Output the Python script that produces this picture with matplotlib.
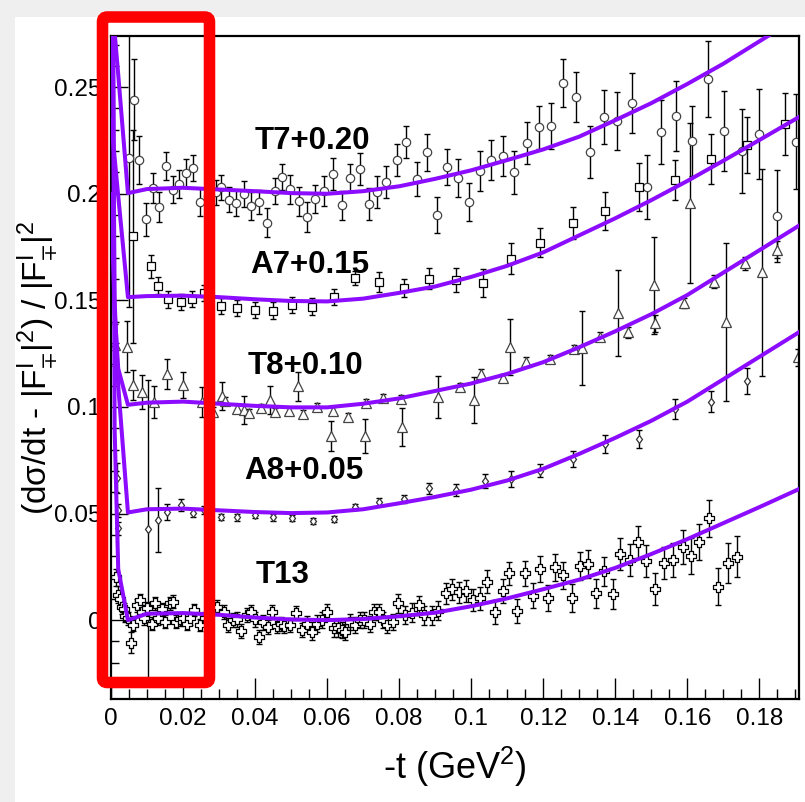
"""Relative deviation of dsigma/dt from the hadronic amplitude, five data sets."""

import matplotlib

matplotlib.use("Agg")
import matplotlib.pyplot as plt
from matplotlib.patches import FancyBboxPatch, Rectangle
from matplotlib.path import Path
from matplotlib.ticker import FuncFormatter, MultipleLocator

plt.rcParams["font.family"] = ["Liberation Sans", "DejaVu Sans"]
plt.rcParams["mathtext.fontset"] = "custom"
plt.rcParams["mathtext.rm"] = "Liberation Sans"
plt.rcParams["mathtext.it"] = "Liberation Sans"
plt.rcParams["mathtext.sf"] = "Liberation Sans"
plt.rcParams["mathtext.fallback"] = "stixsans"

# ---- data -----------------------------------------------------------------
t7_t = [0.0050, 0.0064, 0.0079, 0.0096, 0.0116, 0.0134, 0.0152, 0.0171, 0.0190, 0.0208,
        0.0227, 0.0247, 0.0270, 0.0292, 0.0306, 0.0328, 0.0346, 0.0368, 0.0389, 0.0411,
        0.0432, 0.0454, 0.0474, 0.0497, 0.0522, 0.0544, 0.0567, 0.0592, 0.0615, 0.0641,
        0.0664, 0.0690, 0.0715, 0.0738, 0.0764, 0.0794, 0.0819, 0.0849, 0.0877, 0.0905,
        0.0934, 0.0962, 0.0994, 0.1025, 0.1055, 0.1087, 0.1120, 0.1155, 0.1187, 0.1221,
        0.1256, 0.1292, 0.1331, 0.1368, 0.1406, 0.1445, 0.1488, 0.1527, 0.1569, 0.1613,
        0.1656, 0.1703, 0.1752, 0.1800, 0.1849, 0.1902]
t7_y = [0.2170, 0.2440, 0.2157, 0.1880, 0.2027, 0.1938, 0.2130, 0.2019, 0.2047, 0.2097,
        0.2120, 0.1960, 0.1990, 0.2006, 0.2031, 0.1972, 0.1956, 0.1998, 0.1944, 0.1961,
        0.1865, 0.2014, 0.2077, 0.2020, 0.1964, 0.1891, 0.1977, 0.2014, 0.2094, 0.1945,
        0.2073, 0.2117, 0.1951, 0.2010, 0.2053, 0.2157, 0.2241, 0.2069, 0.2194, 0.1901,
        0.2124, 0.2073, 0.1960, 0.2105, 0.2157, 0.2175, 0.2100, 0.2238, 0.2311, 0.2316,
        0.2519, 0.2452, 0.2196, 0.2359, 0.2340, 0.2426, 0.2031, 0.2289, 0.2363, 0.2249,
        0.2538, 0.2296, 0.2199, 0.2280, 0.1897, 0.2245]
t7_err = [0.0700, 0.0190, 0.0113, 0.0078, 0.0070, 0.0070, 0.0066, 0.0062, 0.0066, 0.0066,
          0.0061, 0.0066, 0.0060, 0.0058, 0.0058, 0.0059, 0.0061, 0.0061, 0.0066, 0.0056,
          0.0066, 0.0061, 0.0061, 0.0066, 0.0066, 0.0070, 0.0066, 0.0070, 0.0075, 0.0070,
          0.0066, 0.0075, 0.0075, 0.0075, 0.0075, 0.0075, 0.0075, 0.0080, 0.0085, 0.0085,
          0.0085, 0.0089, 0.0089, 0.0094, 0.0094, 0.0094, 0.0099, 0.0099, 0.0099, 0.0108,
          0.0113, 0.0117, 0.0122, 0.0127, 0.0136, 0.0141, 0.0150, 0.0150, 0.0164, 0.0164,
          0.0178, 0.0188, 0.0197, 0.0211, 0.0216, 0.0225]

a7_t = [0.0062, 0.0110, 0.0131, 0.0157, 0.0194, 0.0226, 0.0258, 0.0304, 0.0351, 0.0400,
        0.0449, 0.0502, 0.0559, 0.0619, 0.0678, 0.0745, 0.0814, 0.0883, 0.0957, 0.1034,
        0.1110, 0.1192, 0.1282, 0.1372, 0.1467, 0.1567, 0.1667, 0.1766, 0.1870]
a7_y = [0.1800, 0.1659, 0.1568, 0.1505, 0.1494, 0.1505, 0.1535, 0.1475, 0.1463, 0.1455,
        0.1452, 0.1479, 0.1471, 0.1514, 0.1607, 0.1584, 0.1557, 0.1601, 0.1596, 0.1581,
        0.1695, 0.1771, 0.1865, 0.1920, 0.2030, 0.2063, 0.2163, 0.2227, 0.2327]
a7_err = [0.0500, 0.0052, 0.0040, 0.0040, 0.0038, 0.0038, 0.0038, 0.0038, 0.0038, 0.0038,
          0.0038, 0.0038, 0.0040, 0.0038, 0.0033, 0.0047, 0.0042, 0.0049, 0.0056, 0.0066,
          0.0073, 0.0068, 0.0075, 0.0089, 0.0113, 0.0094, 0.0117, 0.0131, 0.0146]

t8_t = [0.0012, 0.0044, 0.0062, 0.0085, 0.0119, 0.0156, 0.0201, 0.0254, 0.0284, 0.0307,
        0.0317, 0.0349, 0.0370, 0.0383, 0.0417, 0.0442, 0.0456, 0.0493, 0.0520, 0.0532,
        0.0573, 0.0610, 0.0616, 0.0659, 0.0706, 0.0707, 0.0756, 0.0807, 0.0806, 0.0909,
        0.0969, 0.1008, 0.1028, 0.1088, 0.1108, 0.1153, 0.1219, 0.1286, 0.1307, 0.1358,
        0.1407, 0.1434, 0.1508, 0.1509, 0.1590, 0.1608, 0.1675, 0.1707, 0.1761, 0.1807,
        0.1849, 0.1907]
t8_y = [0.1290, 0.1283, 0.1103, 0.1068, 0.1025, 0.1155, 0.1103, 0.1025, 0.0978, 0.1053,
        0.1028, 0.0991, 0.0986, 0.0970, 0.0997, 0.1033, 0.0978, 0.0981, 0.1096, 0.0966,
        0.1002, 0.0864, 0.0983, 0.0952, 0.0864, 0.1017, 0.1044, 0.0908, 0.1038, 0.1048,
        0.1092, 0.1033, 0.1155, 0.1135, 0.1283, 0.1213, 0.1225, 0.1272, 0.1275, 0.1330,
        0.1440, 0.1350, 0.1570, 0.1393, 0.1487, 0.1956, 0.1588, 0.1400, 0.1674, 0.1631,
        0.1737, 0.1233]
t8_err = [0.0100, 0.0120, 0.0070, 0.0080, 0.0075, 0.0070, 0.0061, 0.0070, 0.0020, 0.0066,
          0.0020, 0.0018, 0.0066, 0.0018, 0.0018, 0.0066, 0.0018, 0.0018, 0.0070, 0.0018,
          0.0018, 0.0070, 0.0018, 0.0018, 0.0080, 0.0018, 0.0018, 0.0089, 0.0018, 0.0099,
          0.0018, 0.0108, 0.0025, 0.0020, 0.0131, 0.0020, 0.0020, 0.0020, 0.0174, 0.0020,
          0.0202, 0.0025, 0.0226, 0.0040, 0.0025, 0.0376, 0.0030, 0.0371, 0.0030, 0.0484,
          0.0040, 0.0040]

a8_t = [0.0016, 0.0019, 0.0020, 0.0104, 0.0130, 0.0156, 0.0194, 0.0227, 0.0258, 0.0305,
        0.0351, 0.0400, 0.0449, 0.0502, 0.0560, 0.0618, 0.0678, 0.0744, 0.0814, 0.0884,
        0.0958, 0.1037, 0.1111, 0.1192, 0.1282, 0.1372, 0.1467, 0.1567, 0.1667, 0.1766]
a8_y = [0.0665, 0.0516, 0.0430, 0.0426, 0.0470, 0.0508, 0.0540, 0.0504, 0.0515, 0.0485,
        0.0482, 0.0495, 0.0482, 0.0480, 0.0466, 0.0473, 0.0532, 0.0555, 0.0568, 0.0618,
        0.0610, 0.0653, 0.0662, 0.0700, 0.0754, 0.0825, 0.0848, 0.0989, 0.1025, 0.1122]
a8_err = [0.0070, 0.0030, 0.0030, 0.0700, 0.0150, 0.0038, 0.0028, 0.0018, 0.0018, 0.0015,
          0.0015, 0.0018, 0.0015, 0.0015, 0.0015, 0.0015, 0.0015, 0.0018, 0.0018, 0.0025,
          0.0030, 0.0033, 0.0038, 0.0030, 0.0038, 0.0042, 0.0042, 0.0047, 0.0050, 0.0061]

t13_t = [0.0015, 0.0020, 0.0025, 0.0030, 0.0035, 0.0040, 0.0048, 0.0056, 0.0062, 0.0071,
         0.0081, 0.0085, 0.0093, 0.0099, 0.0113, 0.0122, 0.0131, 0.0142, 0.0150, 0.0164,
         0.0173, 0.0180, 0.0191, 0.0201, 0.0210, 0.0219, 0.0231, 0.0247, 0.0260, 0.0275,
         0.0294, 0.0314, 0.0326, 0.0338, 0.0349, 0.0361, 0.0377, 0.0389, 0.0400, 0.0411,
         0.0421, 0.0435, 0.0448, 0.0460, 0.0471, 0.0480, 0.0497, 0.0514, 0.0530, 0.0544,
         0.0558, 0.0571, 0.0585, 0.0601, 0.0618, 0.0631, 0.0641, 0.0650, 0.0664, 0.0676,
         0.0690, 0.0703, 0.0718, 0.0731, 0.0743, 0.0755, 0.0766, 0.0782, 0.0798, 0.0817,
         0.0835, 0.0854, 0.0868, 0.0891, 0.0909, 0.0930, 0.0946, 0.0967, 0.0986, 0.1006,
         0.1025, 0.1045, 0.1067, 0.1087, 0.1106, 0.1127, 0.1148, 0.1171, 0.1190, 0.1212,
         0.1233, 0.1256, 0.1280, 0.1303, 0.1324, 0.1347, 0.1369, 0.1393, 0.1414, 0.1440,
         0.1462, 0.1486, 0.1511, 0.1534, 0.1560, 0.1587, 0.1610, 0.1633, 0.1659, 0.1685,
         0.1712, 0.1738]
t13_y = [0.0200, 0.0120, 0.0100, 0.0060, 0.0050, 0.0020, 0.0008, -0.0106, -0.0023, 0.0070,
         0.0094, 0.0039, 0.0008, 0.0055, -0.0016, 0.0078, 0.0008, 0.0050, -0.0008, 0.0078,
         0.0086, -0.0008, 0.0003, 0.0008, -0.0016, 0.0008, 0.0047, -0.0023, 0.0010, 0.0050,
         0.0063, 0.0039, -0.0023, 0.0000, 0.0003, -0.0052, 0.0023, 0.0039, 0.0003, -0.0081,
         -0.0011, -0.0031, 0.0039, -0.0028, -0.0019, -0.0028, -0.0023, 0.0034, -0.0047, -0.0016,
         -0.0055, -0.0016, 0.0000, 0.0039, -0.0039, -0.0039, -0.0047, -0.0055, -0.0008, -0.0023,
         0.0000, 0.0000, -0.0019, 0.0039, 0.0039, 0.0000, -0.0023, -0.0008, 0.0078, 0.0023,
         0.0034, 0.0070, 0.0023, 0.0023, 0.0044, 0.0125, 0.0144, 0.0130, 0.0136, 0.0094,
         0.0102, 0.0180, 0.0039, 0.0136, 0.0219, 0.0042, 0.0219, 0.0114, 0.0239, 0.0105,
         0.0247, 0.0211, 0.0105, 0.0254, 0.0263, 0.0125, 0.0230, 0.0122, 0.0308, 0.0282,
         0.0368, 0.0279, 0.0146, 0.0269, 0.0282, 0.0344, 0.0300, 0.0368, 0.0477, 0.0157,
         0.0269, 0.0297]
t13_err = [0.0040, 0.0040, 0.0040, 0.0030, 0.0030, 0.0030, 0.0030, 0.0050, 0.0030, 0.0030,
           0.0030, 0.0030, 0.0030, 0.0030, 0.0030, 0.0030, 0.0030, 0.0030, 0.0030, 0.0030,
           0.0030, 0.0030, 0.0030, 0.0030, 0.0030, 0.0030, 0.0030, 0.0030, 0.0030, 0.0030,
           0.0033, 0.0033, 0.0033, 0.0033, 0.0033, 0.0033, 0.0033, 0.0033, 0.0033, 0.0033,
           0.0033, 0.0033, 0.0033, 0.0033, 0.0033, 0.0033, 0.0033, 0.0033, 0.0033, 0.0033,
           0.0038, 0.0038, 0.0038, 0.0038, 0.0038, 0.0038, 0.0038, 0.0038, 0.0038, 0.0038,
           0.0038, 0.0038, 0.0038, 0.0038, 0.0038, 0.0038, 0.0038, 0.0038, 0.0043, 0.0043,
           0.0045, 0.0045, 0.0045, 0.0045, 0.0045, 0.0050, 0.0050, 0.0050, 0.0050, 0.0050,
           0.0053, 0.0053, 0.0055, 0.0055, 0.0055, 0.0055, 0.0058, 0.0058, 0.0060, 0.0060,
           0.0063, 0.0063, 0.0065, 0.0065, 0.0065, 0.0068, 0.0068, 0.0070, 0.0075, 0.0075,
           0.0075, 0.0075, 0.0076, 0.0076, 0.0080, 0.0080, 0.0085, 0.0085, 0.0088, 0.0088,
           0.0094, 0.0097]

# fitted curves, sampled where read
curve_t = [0.0, 0.001, 0.002, 0.0047, 0.01, 0.02, 0.03, 0.04, 0.05, 0.06, 0.07, 0.08,
           0.09, 0.10, 0.11, 0.12, 0.13, 0.14, 0.15, 0.16, 0.17, 0.18, 0.19, 0.195]
curve_t7 = [0.296, 0.276, 0.256, 0.2003, 0.2022, 0.2028, 0.2020, 0.2012, 0.2003, 0.2000,
            0.2012, 0.2035, 0.2070, 0.2110, 0.2158, 0.2208, 0.2268, 0.2345, 0.2425, 0.2515,
            0.2610, 0.2715, 0.2820, 0.2875]
curve_a7 = [0.235, 0.217, 0.199, 0.1515, 0.1520, 0.1522, 0.1515, 0.1505, 0.1497, 0.1495,
            0.1508, 0.1535, 0.1565, 0.1610, 0.1662, 0.1725, 0.1805, 0.1885, 0.1970, 0.2060,
            0.2155, 0.2252, 0.2350, 0.2400]
curve_t8 = [0.200, 0.145, 0.118, 0.1010, 0.1020, 0.1025, 0.1015, 0.1005, 0.0998, 0.0998,
            0.1015, 0.1040, 0.1075, 0.1110, 0.1155, 0.1210, 0.1280, 0.1355, 0.1435, 0.1525,
            0.1630, 0.1735, 0.1840, 0.1895]
curve_a8 = [0.400, 0.150, 0.110, 0.0505, 0.0520, 0.0523, 0.0515, 0.0507, 0.0502, 0.0505,
            0.0520, 0.0548, 0.0578, 0.0612, 0.0655, 0.0710, 0.0780, 0.0855, 0.0935, 0.1025,
            0.1130, 0.1235, 0.1340, 0.1395]
curve_t13 = [0.600, 0.090, 0.024, 0.0000, 0.0030, 0.0033, 0.0025, 0.0012, 0.0003, 0.0000,
             0.0005, 0.0018, 0.0035, 0.0065, 0.0102, 0.0145, 0.0190, 0.0245, 0.0310, 0.0380,
             0.0455, 0.0530, 0.0607, 0.0647]

labels = ["T7+0.20", "A7+0.15", "T8+0.10", "A8+0.05", "T13"]
label_pos = [(0.0400, 0.2211), (0.0386, 0.1629), (0.0380, 0.1155), (0.0369, 0.0662), (0.0402, 0.0175)]

CURVE_COLOR = "#8c0cff"

# open cross marker (ROOT style 28)
cross = Path([(-0.3, 1), (0.3, 1), (0.3, 0.3), (1, 0.3), (1, -0.3), (0.3, -0.3), (0.3, -1),
              (-0.3, -1), (-0.3, -0.3), (-1, -0.3), (-1, 0.3), (-0.3, 0.3), (-0.3, 1)],
             closed=True)

fig = plt.figure(figsize=(8.05, 8.02), dpi=100)
fig.patch.set_facecolor("#efefef")
fig.add_artist(Rectangle((15 / 805, 0), 1, 1 - 17 / 802, transform=fig.transFigure,
                         facecolor="white", edgecolor="none", zorder=0))

ax = fig.add_axes([111 / 805, 1 - 699 / 802, 688 / 805, 663 / 802])

series = [
    (t7_t, t7_y, t7_err, "o", 6.0, "#444444"),
    (a7_t, a7_y, a7_err, "s", 5.5, "black"),
    (t8_t, t8_y, t8_err, "^", 6.5, "#444444"),
    (a8_t, a8_y, a8_err, "d", 4.5, "#333333"),
    (t13_t, t13_y, t13_err, cross, 7.3, "black"),
]
for t, y, err, marker, ms, ec in series:
    ax.errorbar(t, y, yerr=err, fmt="none", ecolor="black", elinewidth=1.0,
                capsize=2.5, capthick=1.0, zorder=2)
    ax.plot(t, y, linestyle="none", marker=marker, markersize=ms, markerfacecolor="white",
            markeredgecolor=ec, markeredgewidth=0.9, zorder=2.5)

for values in [curve_t7, curve_a7, curve_t8, curve_a8, curve_t13]:
    ax.plot(curve_t, values, color=CURVE_COLOR, linewidth=2.9, zorder=3,
            solid_joinstyle="round")

for text, (x, y) in zip(labels, label_pos):
    ax.text(x, y, text, fontsize=22.5, fontweight="bold", ha="left", va="baseline", zorder=4)

ax.set_xlim(0, 0.191)
ax.set_ylim(-0.037, 0.274)

ax.xaxis.set_major_locator(MultipleLocator(0.02))
ax.xaxis.set_minor_locator(MultipleLocator(0.005))
ax.yaxis.set_major_locator(MultipleLocator(0.05))
ax.yaxis.set_minor_locator(MultipleLocator(0.01))
fmt = FuncFormatter(lambda v, pos: f"{v:.2f}".rstrip("0").rstrip(".") if abs(v) > 1e-9 else "0")
ax.xaxis.set_major_formatter(fmt)
ax.yaxis.set_major_formatter(fmt)

ax.tick_params(axis="both", which="both", direction="in", top=False, right=False,
               labelsize=17.5, width=1.0)
ax.tick_params(axis="x", which="major", length=15, pad=6.5)
ax.tick_params(axis="x", which="minor", length=7.5)
ax.tick_params(axis="y", which="major", length=12.5, pad=7)
ax.tick_params(axis="y", which="minor", length=5.5)
for spine in ax.spines.values():
    spine.set_linewidth(1.6)

fig.text(455 / 805, 1 - 767 / 802, r"-t (GeV$^{2}$)", fontsize=26, ha="center", va="center")
# the title overlaps the 0.15 and 0.05 tick labels in the original as well
fig.text(38 / 805, 1 - 368 / 802,
         r"(d$\sigma$/dt - |F$^{I}_{\mp}$|$^{2}$) / |F$^{I}_{\mp}$|$^{2}$",
         fontsize=24, rotation=90, ha="center", va="center")

# red highlight box around the small -t region
fig.add_artist(FancyBboxPatch((102.5 / 805, 1 - 682.5 / 802), 107 / 805, 665.5 / 802,
                              boxstyle="round,pad=0,rounding_size=0.006",
                              transform=fig.transFigure, facecolor="none",
                              edgecolor="#ff0000", linewidth=8.3, zorder=10))

fig.savefig("out.png", dpi=100)
plt.close(fig)
